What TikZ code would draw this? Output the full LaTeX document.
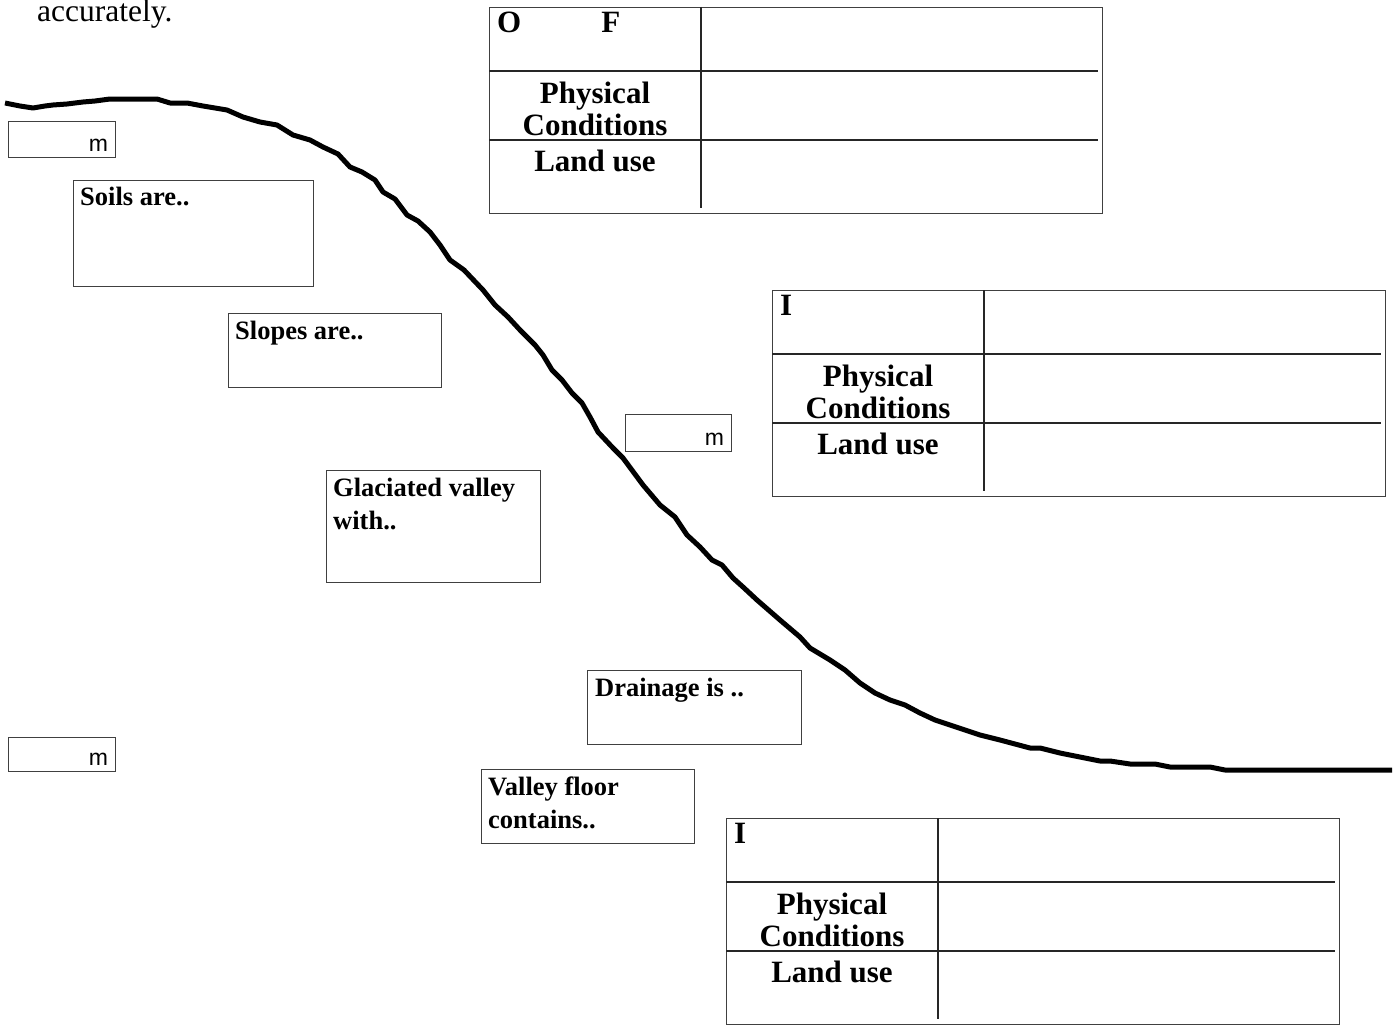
\documentclass[tikz,border=0pt]{standalone}
\usepackage{fontspec}
\setmainfont{Liberation Serif}
\newfontfamily\msans{Liberation Sans}
\newcommand\infotable[4]{%
  \begin{scope}[shift={(#2,#3)}]
    \node[frame, minimum width=613pt, minimum height=206pt, anchor=north west] (#1) at (0,0) {};
    \coordinate (#1-h1a) at (0,64);   \coordinate (#1-h1b) at (609,64);
    \coordinate (#1-h2a) at (0,133);  \coordinate (#1-h2b) at (609,133);
    \coordinate (#1-va) at (212,0);   \coordinate (#1-vb) at (212,201);
    \draw[rule] (#1-h1a) -- (#1-h1b);
    \draw[rule] (#1-h2a) -- (#1-h2b);
    \draw[rule] (#1-va) -- (#1-vb);
    \node[tlabel, anchor=north west] (#1-head) at (8,5) {#4};
    \node[tlabel, anchor=north] (#1-phys) at (106,75) {Physical\\Conditions};
    \node[tlabel, anchor=north] (#1-land) at (106,143) {Land use};
  \end{scope}}
\begin{document}
\begin{tikzpicture}[x=1pt,y=-1pt,
  frame/.style={draw=black!75, line width=1.3pt, inner sep=0pt},
  rule/.style={draw=black!85, line width=1.2pt},
  tlabel/.style={font=\bfseries\fontsize{31}{32}\selectfont, inner sep=0pt, align=center},
  blabel/.style={font=\bfseries\fontsize{26.5}{33}\selectfont, inner sep=0pt, align=left, anchor=north west},
  mlabel/.style={font=\msans\fontsize{23}{23}\selectfont, inner sep=0pt, anchor=base east},
  ground/.style={line width=5pt, line join=round}]
\useasboundingbox (0,0) rectangle (1398,1025);
\fill[white] (0,0) rectangle (1398,1025);

% fragment of instruction text
\node[font=\fontsize{31.5}{32}\selectfont, inner sep=0pt, anchor=base west] (acc) at (37,22) {accurately.};

% ground profile
\draw[ground] (5,103) -- (20,106) -- (33,108) -- (45,106) -- (53,105) -- (67,104) -- (83,102) -- (95,101) -- (110,99) -- (157,99) -- (170,103) -- (187,103) -- (203,106) -- (227,110) -- (243,117) -- (260,122) -- (277,125) -- (293,135) -- (310,140) -- (323,147) -- (338,154) -- (350,167) -- (362,172) -- (375,180) -- (383,192) -- (395,199) -- (407,215) -- (418,221) -- (430,232) -- (440,245) -- (450,260) -- (464,270) -- (483,290) -- (495,305) -- (508,317) -- (520,330) -- (535,345) -- (543,355) -- (552,370) -- (562,380) -- (572,393) -- (582,403) -- (590,417) -- (598,432) -- (613,448) -- (623,458) -- (643,485) -- (660,505) -- (675,517) -- (687,535) -- (700,547) -- (712,560) -- (722,565) -- (733,578) -- (743,587) -- (757,600) -- (780,620) -- (800,637) -- (810,648) -- (830,660) -- (845,670) -- (860,683) -- (875,693) -- (890,700) -- (905,705) -- (920,713) -- (935,720) -- (950,725) -- (965,730) -- (980,735) -- (1000,740) -- (1015,744) -- (1030,748) -- (1040,748) -- (1060,753) -- (1080,757) -- (1100,761) -- (1110,761) -- (1130,764) -- (1155,764) -- (1170,767) -- (1210,767) -- (1225,770) -- (1392,770);

% height boxes
\node[frame, minimum width=107pt, minimum height=36pt, anchor=north west] (m1) at (8,121) {};
\node[mlabel] (m1t) at ([xshift=-8pt,yshift=7pt]m1.south east) {m};
\node[frame, minimum width=106pt, minimum height=37pt, anchor=north west] (m2) at (625,414) {};
\node[mlabel] (m2t) at ([xshift=-8pt,yshift=7pt]m2.south east) {m};
\node[frame, minimum width=107pt, minimum height=34pt, anchor=north west] (m3) at (8,737) {};
\node[mlabel] (m3t) at ([xshift=-8pt,yshift=7pt]m3.south east) {m};

% description boxes
\node[frame, minimum width=240pt, minimum height=106pt, anchor=north west] (soil) at (73,180) {};
\node[blabel] (soilt) at (80,187) {Soils are..};
\node[frame, minimum width=213pt, minimum height=74pt, anchor=north west] (slope) at (228,313) {};
\node[blabel] (slopet) at (235,321) {Slopes are..};
\node[frame, minimum width=214pt, minimum height=112pt, anchor=north west] (glac) at (326,470) {};
\node[blabel] (glact) at (333,478) {Glaciated valley\\with..};
\node[frame, minimum width=214pt, minimum height=74pt, anchor=north west] (drain) at (587,670) {};
\node[blabel] (draint) at (595,678) {Drainage is ..};
\node[frame, minimum width=213pt, minimum height=74pt, anchor=north west] (floor) at (481,769) {};
\node[blabel] (floort) at (488,777) {Valley floor\\contains..};

% tables
\infotable{tA}{489}{7}{O\hspace{80pt}F}
\infotable{tB}{772}{290}{I}
\infotable{tC}{726}{818}{I}
\end{tikzpicture}
\end{document}
